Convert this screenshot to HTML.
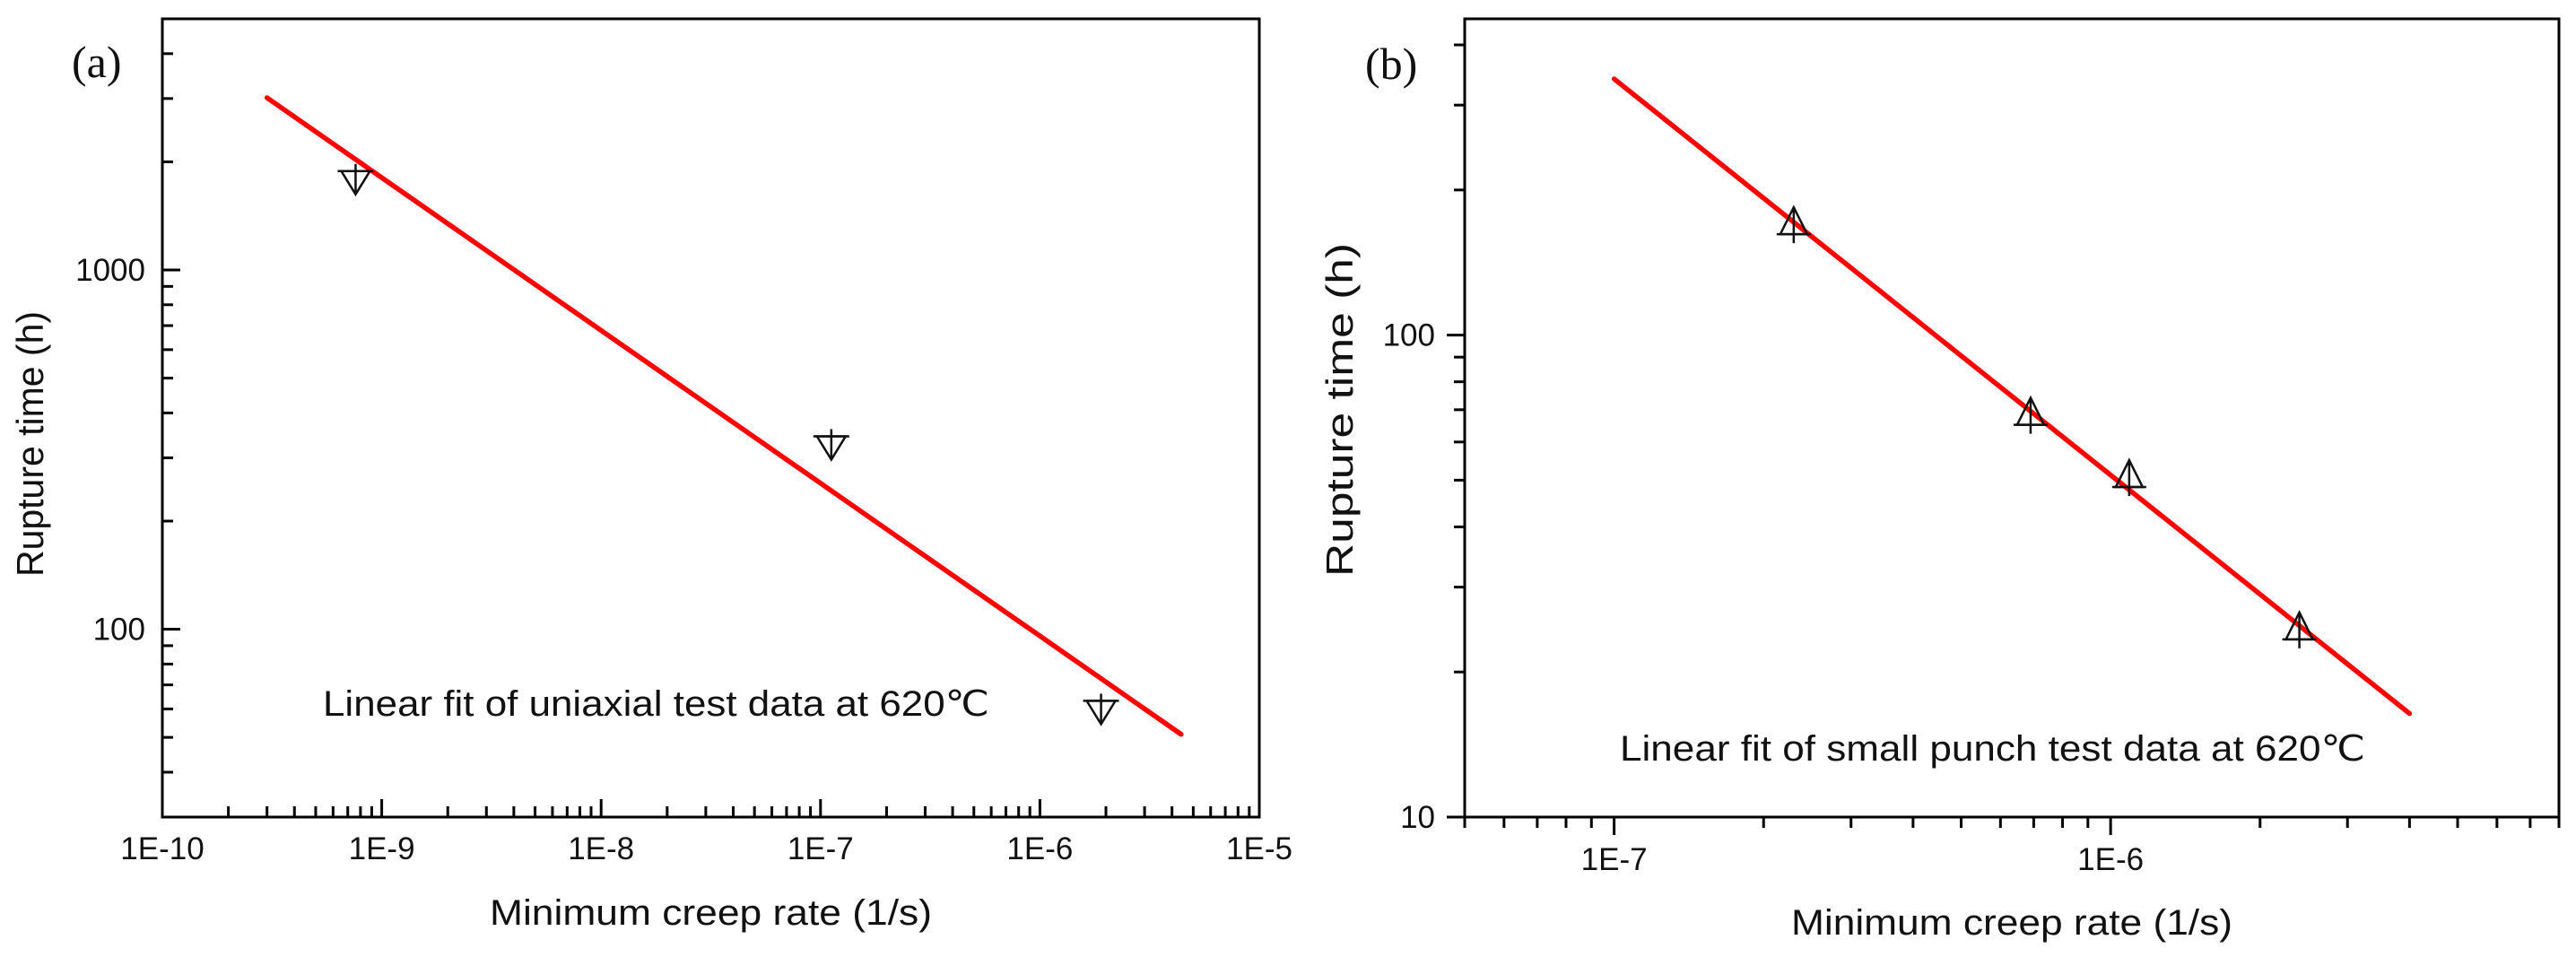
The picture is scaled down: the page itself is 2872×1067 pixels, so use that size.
<!DOCTYPE html>
<html><head><meta charset="utf-8"><style>
html,body{margin:0;padding:0;background:#fff;}
svg{display:block;font-family:"Liberation Sans",Arial,sans-serif;}
</style></head><body>
<svg id="chart" width="2872" height="1067" viewBox="0 0 2872 1067" xmlns="http://www.w3.org/2000/svg">
<g id="pa"></g>
<g id="pb"></g>
</svg>
<script>
// Panel (a) data
const aXTicks = [-10, -9, -8, -7, -6, -5];
const aXTickLabels = ["1E-10", "1E-9", "1E-8", "1E-7", "1E-6", "1E-5"];
const aYTicks = [100, 1000];
const aYTickLabels = ["100", "1000"];
const aPointsX = [7.6e-10, 1.12e-7, 1.9e-6];
const aPointsY = [1790, 327, 60];
const aFitX = [3.0e-10, 4.4e-6];
const aFitY = [3015, 51];
// Panel (b) data
const bXTicks = [-7, -6];
const bXTickLabels = ["1E-7", "1E-6"];
const bYTicks = [10, 100];
const bYTickLabels = ["10", "100"];
const bPointsX = [2.3e-7, 6.9e-7, 1.09e-6, 2.4e-6];
const bPointsY = [169, 68, 50.5, 24.4];
const bFitX = [1.0e-7, 4.0e-6];
const bFitY = [340, 16.4];

const NS = "http://www.w3.org/2000/svg";
function el(parent, tag, attrs, text) {
  const e = document.createElementNS(NS, tag);
  for (const k in attrs) e.setAttribute(k, attrs[k]);
  if (text !== undefined) e.textContent = text;
  parent.appendChild(e);
  return e;
}
function logScale(d0, d1, r0, r1) {
  const l0 = Math.log10(d0), l1 = Math.log10(d1);
  return v => r0 + (Math.log10(v) - l0) / (l1 - l0) * (r1 - r0);
}

function drawPanel(g, o) {
  const sx = logScale(o.xmin, o.xmax, o.L, o.R);
  const sy = logScale(o.ymin, o.ymax, o.B, o.T);
  const dir = o.outside ? 1 : -1; // ticks outward (+) or inward (-)
  // frame
  const frame = el(g, "rect", {x:o.L, y:o.T, width:o.R-o.L, height:o.B-o.T, fill:"none", stroke:"#000", "stroke-width":3});
  
  
  // x ticks
  const xg = el(g, "g", {});
  
  
  for (let e = Math.floor(Math.log10(o.xmin)); e <= Math.ceil(Math.log10(o.xmax)); e++) {
    for (let m = 1; m <= 9; m++) {
      const v = m * Math.pow(10, e);
      if (v < o.xmin * 0.999 || v > o.xmax * 1.001) continue;
      const x = sx(v);
      const len = m === 1 ? 20 : 12;
      el(xg, "line", {x1:x, x2:x, y1:o.B, y2:o.B + dir*len, stroke:"#000", "stroke-width":3});
    }
  }
  o.xTicks.forEach((t, i) => {
    const lab = el(xg, "text", {x:sx(Math.pow(10,t)), y:o.xLabY, "font-size":35, "text-anchor":"middle", fill:"#111"}, o.xTickLabels[i]);
    
    
  });
  // y ticks
  const yg = el(g, "g", {});
  
  
  for (let e = Math.floor(Math.log10(o.ymin)); e <= Math.ceil(Math.log10(o.ymax)); e++) {
    for (let m = 1; m <= 9; m++) {
      const v = m * Math.pow(10, e);
      if (v < o.ymin * 0.999 || v > o.ymax * 1.001) continue;
      const y = sy(v);
      const len = m === 1 ? 20 : 12;
      el(yg, "line", {x1:o.L, x2:o.L - dir*len, y1:y, y2:y, stroke:"#000", "stroke-width":3});
    }
  }
  o.yTicks.forEach((t, i) => {
    const lab = el(yg, "text", {x:o.yLabX, y:sy(t)+12, "font-size":35, "text-anchor":"end", fill:"#111"}, o.yTickLabels[i]);
    
    
  });
  // titles
  const xt = el(g, "text", {x:o.xTitleX, y:o.xTitleY, "font-size":40, textLength:o.xTitleLen, lengthAdjust:"spacingAndGlyphs", fill:"#111"}, "Minimum creep rate (1/s)");
  
  
  const yt = el(g, "text", {x:0, y:0, "font-size":42, "text-anchor":"middle", textLength:o.yTitleLen, lengthAdjust:"spacingAndGlyphs", fill:"#111", transform:`translate(${o.yTitleX},${o.yTitleY}) rotate(-90)`}, "Rupture time (h)");
  
  
  // annotation
  const an = el(g, "text", {x:o.annX, y:o.annY, "font-size":40, textLength:o.annLen, lengthAdjust:"spacingAndGlyphs", fill:"#111"}, o.annText);
  
  
  // panel label
  const pl = el(g, "text", {x:o.plX, y:o.plY, "font-size":50, "font-family":"Liberation Serif, serif", fill:"#111"}, o.plText);
  
  
  // fit line
  const fl = el(g, "line", {x1:sx(o.fitX[0]), y1:sy(o.fitY[0]), x2:sx(o.fitX[1]), y2:sy(o.fitY[1]), stroke:"#f00", "stroke-width":5.5, "stroke-linecap":"round"});
  
  
  // markers
  o.px.forEach((xv, i) => {
    const cx = sx(xv), cy = sy(o.py[i]);
    const mg = el(g, "g", {stroke:"#111", "stroke-width":2.5, fill:"none"});
    
    
    if (o.down) {
      const top = cy - 9, apex = cy + 17;
      el(mg, "polygon", {points:`${cx-16},${top} ${cx+16},${top} ${cx},${apex}`});
      el(mg, "line", {x1:cx-20, x2:cx+20, y1:top, y2:top});
      el(mg, "line", {x1:cx, x2:cx, y1:top-8, y2:apex});
    } else {
      const base = cy + 10, apex = cy - 20;
      el(mg, "polygon", {points:`${cx-15},${base} ${cx+15},${base} ${cx},${apex}`});
      el(mg, "line", {x1:cx-19, x2:cx+19, y1:base, y2:base});
      el(mg, "line", {x1:cx, x2:cx, y1:apex, y2:base+10});
    }
  });
}

drawPanel(document.getElementById("pa"), {
  L:181, R:1404, T:21, B:911, xmin:1e-10, xmax:1e-5, ymin:30, ymax:5000, outside:false,
  xTicks:aXTicks, xTickLabels:aXTickLabels, yTicks:aYTicks, yTickLabels:aYTickLabels,
  xLabY:958, yLabX:162, xTitleX:546, xTitleY:1031, xTitleLen:493, yTitleX:48, yTitleY:495, yTitleLen:296,
  annX:360, annY:798, annLen:743, annText:"Linear fit of uniaxial test data at 620\u2103",
  plX:80, plY:86, plText:"(a)", fitX:aFitX, fitY:aFitY, px:aPointsX, py:aPointsY, down:true
});
drawPanel(document.getElementById("pb"), {
  L:1633, R:2853, T:21, B:911, xmin:5e-8, xmax:8e-6, ymin:10, ymax:453, outside:true,
  xTicks:bXTicks, xTickLabels:bXTickLabels, yTicks:bYTicks, yTickLabels:bYTickLabels,
  xLabY:970, yLabX:1600, xTitleX:1997, xTitleY:1042, xTitleLen:492, yTitleX:1508, yTitleY:457, yTitleLen:372,
  annX:1806, annY:848, annLen:831, annText:"Linear fit of small punch test data at 620\u2103",
  plX:1522, plY:88, plText:"(b)", fitX:bFitX, fitY:bFitY, px:bPointsX, py:bPointsY, down:false
});
</script>
</body></html>
